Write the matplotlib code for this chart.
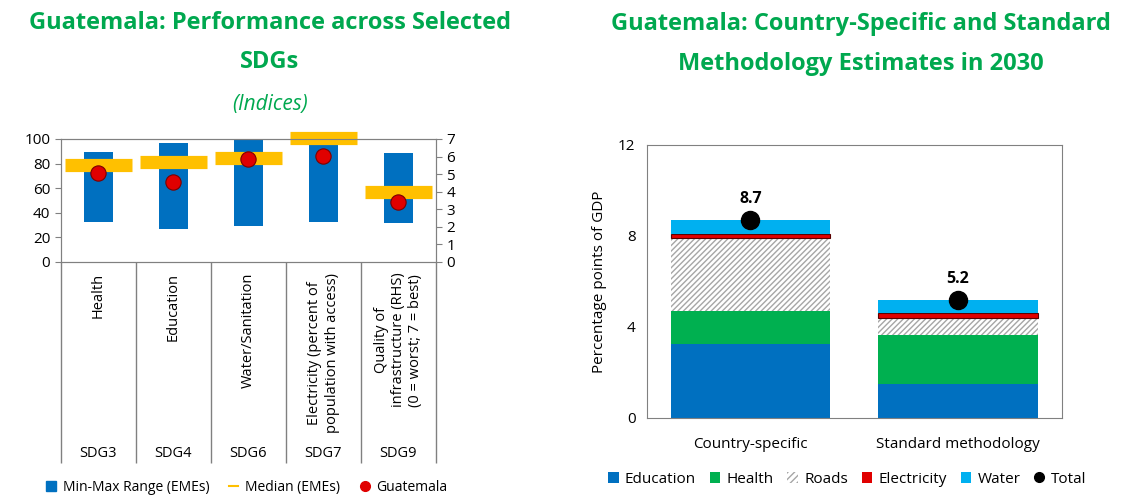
import matplotlib.pyplot as plt
import numpy as np
from matplotlib.patches import Patch
from matplotlib.lines import Line2D

plt.rcParams['font.family'] = ['Open Sans', 'DejaVu Sans']

GREEN = '#00a84f'

# left chart data (SDG9 is on the right-hand scale 0-7)
sdg_labels = ['SDG3', 'SDG4', 'SDG6', 'SDG7', 'SDG9']
sdg_names = ['Health', 'Education', 'Water/Sanitation',
             'Electricity (percent of\npopulation with access)',
             'Quality of\ninfrastructure (RHS)\n(0 = worst; 7 = best)']
range_min = [32, 26.5, 29, 32.5, 2.23]
range_max = [89, 96.5, 100, 100, 6.2]
median_eme = [79, 81.5, 84.5, 100.5, 4.0]
guatemala = [72, 65, 84, 86, 3.43]
rhs = [False, False, False, False, True]

# right chart data
methods = ['Country-specific', 'Standard methodology']
sectors = ['Education', 'Health', 'Roads', 'Electricity', 'Water']
education = [3.25, 1.5]
health = [1.45, 2.15]
roads = [3.2, 0.75]
electricity = [0.17, 0.2]
water = [0.63, 0.6]
totals = [8.7, 5.2]

fig = plt.figure(figsize=(11.48, 4.96), dpi=100)

# ---- left panel
ax = fig.add_axes([60.7 / 1148, 1 - 261.7 / 496, 375.3 / 1148, 122.7 / 496])
ax2 = ax.twinx()
ax.set_xlim(0, 5)
ax.set_ylim(0, 100)
ax2.set_ylim(0, 7)
ax.set_yticks(range(0, 101, 20))
ax2.set_yticks(range(0, 8))
scale = 100 / 7
xs = np.arange(5) + 0.5
for i, x in enumerate(xs):
    f = scale if rhs[i] else 1
    lo, hi = range_min[i] * f, range_max[i] * f
    ax.bar(x, hi - lo, bottom=lo, width=0.39, color='#0070c0', zorder=2)
    ax.hlines(median_eme[i] * f, x - 0.445, x + 0.445, color='#ffc000',
              lw=9.5, zorder=3, clip_on=False)
    ax.plot(x, guatemala[i] * f, 'o', ms=11, color='#e00000', mec='#7a0000',
            mew=0.8, zorder=4, clip_on=False)
ax.set_xticks(range(6))
ax.set_xticklabels([])
ax.tick_params(axis='x', length=145, color='#808080', width=1)
ax.tick_params(axis='y', labelsize=11, length=4, color='#808080')
ax2.tick_params(axis='y', labelsize=11, length=4, color='#808080')
for a in (ax, ax2):
    for s in a.spines.values():
        s.set_color('#808080')
for i, x in enumerate(xs):
    ax.text(x, -0.09, sdg_names[i], rotation=90, ha='center', va='top',
            transform=ax.get_xaxis_transform(), fontsize=10.5, linespacing=1.2)
    ax.text(x, -1.56, sdg_labels[i], ha='center', va='center',
            transform=ax.get_xaxis_transform(), fontsize=10.5)

fig.text(0.235, 0.915, 'Guatemala: Performance across Selected\nSDGs', ha='center',
         va='center', fontsize=17, fontweight='bold', color=GREEN, linespacing=1.85)
fig.text(0.235, 0.79, '(Indices)', ha='center', va='center', fontsize=15,
         style='italic', color=GREEN)

h1 = [Patch(color='#0070c0'),
      Line2D([], [], color='#ffc000', lw=1.5),
      Line2D([], [], marker='o', ls='', color='#e00000', ms=7)]
fig.legend(h1, ['Min-Max Range (EMEs)', 'Median (EMEs)', 'Guatemala'],
           loc='center', bbox_to_anchor=(0.215, 0.018), ncol=3, frameon=False,
           fontsize=10, handlelength=0.7, handletextpad=0.5, columnspacing=1.4)

# ---- right panel
bx = fig.add_axes([646.7 / 1148, 1 - 417.7 / 496, 415 / 1148, 272.7 / 496])
bx.set_xlim(-0.5, 1.5)
bx.set_ylim(0, 12)
bx.set_yticks([0, 4, 8, 12])
pos = np.arange(2)
colors = ['#0070c0', '#00b050', 'white', '#e00000', '#00b0f0']
bottom = np.zeros(2)
for name, vals, c in zip(sectors, [education, health, roads, electricity, water], colors):
    kw = {}
    if name == 'Roads':
        kw = dict(hatch='//////', edgecolor='#a6a6a6', linewidth=0)
    elif name == 'Electricity':
        kw = dict(edgecolor='#5a0000', linewidth=0.8)
    bx.bar(pos, vals, bottom=bottom, width=0.77, color=c, label=name, zorder=2, **kw)
    bottom += np.array(vals)
bx.plot(pos, totals, 'o', color='black', ms=13, zorder=4, label='Total')
for p, t in zip(pos, totals):
    bx.text(p, t + 0.55, f'{t:.1f}', ha='center', va='bottom', fontsize=11.5,
            fontweight='bold')
bx.set_xticks(pos)
bx.set_xticklabels(methods, fontsize=11)
bx.tick_params(axis='x', length=0, pad=14)
bx.tick_params(axis='y', labelsize=11, length=0, pad=8)
bx.set_ylabel('Percentage points of GDP', fontsize=11, labelpad=8)
for s in bx.spines.values():
    s.set_color('#808080')

fig.text(0.75, 0.912, 'Guatemala: Country-Specific and Standard\nMethodology Estimates in 2030',
         ha='center', va='center', fontsize=17, fontweight='bold', color=GREEN,
         linespacing=1.9)

h2 = [Patch(facecolor=c, edgecolor='#a6a6a6' if n == 'Roads' else c,
            hatch='/////' if n == 'Roads' else None, lw=0)
      for n, c in zip(sectors, colors)]
h2.append(Line2D([], [], marker='o', ls='', color='black', ms=7))
fig.legend(h2, sectors + ['Total'], loc='center', bbox_to_anchor=(0.738, 0.034),
           ncol=6, frameon=False, fontsize=11, handlelength=0.7, handleheight=0.7,
           handletextpad=0.4, columnspacing=0.9)

fig.savefig('out.png', dpi=100)
